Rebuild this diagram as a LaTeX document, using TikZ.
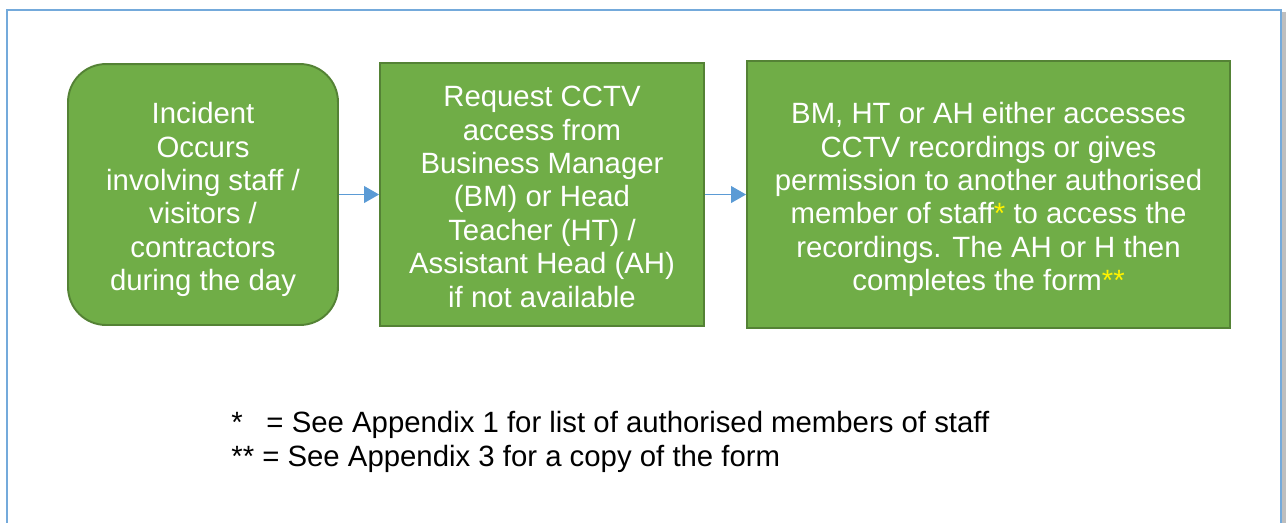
\documentclass[tikz,border=0pt]{standalone}
\usepackage{fontspec}
\setmainfont{Liberation Sans}
\usetikzlibrary{arrows.meta}
\definecolor{boxgreen}{RGB}{112,173,71}
\definecolor{boxedge}{RGB}{84,130,53}
\definecolor{arrowblue}{RGB}{91,155,213}
\definecolor{framegray}{RGB}{190,190,190}
\newcommand{\firstline}[1][17.8pt]{\rule{0pt}{#1}}
\begin{document}
\begin{tikzpicture}[x=0.02cm, y=-0.02cm,
    step box/.style={draw=boxedge, fill=boxgreen, line width=1.1pt, text=white,
      align=center, font=\fontsize{16.7}{19}\selectfont, inner sep=0pt},
    flow/.style={draw=arrowblue, line width=0.8pt, -{Triangle[length=8.5pt, width=9.5pt]}}]

    \useasboundingbox (0,0) rectangle (1287,522);

    % Frame
    \draw[framegray, line width=2.5pt] (1284,12) -- (1284,530);
    \draw[arrowblue!85, line width=1.2pt] (7,540) -- (7,10) -- (1281,10) -- (1281,540);

    % Steps
    \node[step box, rounded corners=0.76cm, minimum width=5.4cm, minimum height=5.22cm] (incident) at (203,194.5)
      {\firstline Incident\\Occurs\\involving staff /\\visitors /\\contractors\\during the day};

    \node[step box, minimum width=6.48cm, minimum height=5.26cm] (request) at (542,194.5)
      {\firstline[14.3pt]Request CCTV\\access from\\Business Manager\\(BM) or Head\\Teacher (HT) /\\Assistant Head (AH)\\if not available};

    \node[step box, minimum width=9.66cm, minimum height=5.34cm] (access) at (988.5,194.5)
      {\firstline BM, HT or AH either accesses\\CCTV recordings or gives\\permission to another authorised\\member of staff\textcolor{yellow}{*} to access the\\recordings. The AH or H then\\completes the form\textcolor{yellow}{**}};

    % Arrows
    \draw[flow] (incident) -- (request);
    \draw[flow] (request) -- (access);

    % Notes
    \node[anchor=west, align=left, inner sep=0pt, font=\fontsize{16.7}{19.8}\selectfont] (notes) at (231,442)
      {*\hspace{13.5pt}= See Appendix 1 for list of authorised members of staff\\
       ** = See Appendix 3 for a copy of the form};

\end{tikzpicture}
\end{document}
